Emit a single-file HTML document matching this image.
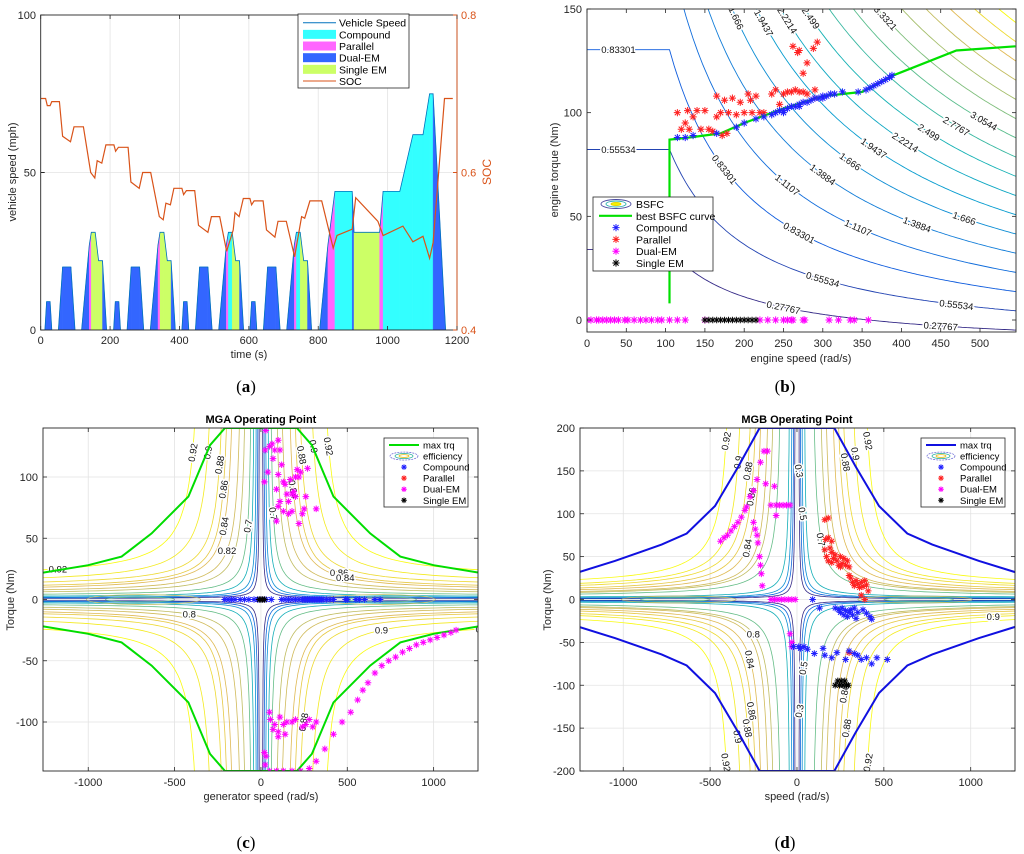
<!DOCTYPE html>
<html><head><meta charset="utf-8"><title>Hybrid powertrain operating points</title>
<style>
html,body{margin:0;padding:0;background:#fff;}
svg{display:block;font-family:"Liberation Sans",sans-serif;}
.tk{font-size:11px;fill:#262626;}
.lg{font-size:10.5px;fill:#000;}
.cl{font-size:9.5px;fill:#111;paint-order:stroke;stroke:#fff;stroke-width:3px;}
</style></head>
<body>
<svg id="fig" width="1024" height="854" viewBox="0 0 1024 854" xmlns="http://www.w3.org/2000/svg">
<defs>
<clipPath id="clipA"><rect x="40.7" y="15" width="416.3" height="315"/></clipPath>
<clipPath id="clipB"><rect x="587" y="9" width="429" height="323"/></clipPath>
<clipPath id="clipC"><rect x="43" y="428" width="435" height="343"/></clipPath>
<clipPath id="clipD"><rect x="580" y="428" width="435" height="343"/></clipPath>
</defs>
</svg>
<script>
// ---------- Panel (a) data ----------
const timePts=[12,17,27,32,51,63,87,99,118,140,146,157,167,178,190,
210,215,225,230,249,261,285,297,316,338,344,355,365,376,388,
407,412,422,427,446,458,482,494,513,535,541,552,562,573,585,
603,608,618,623,642,654,678,690,709,731,737,748,758,769,781,
804,828,848,898,903,977,987,1035,1073,1102,1121,1131,1167];
const speedPts=[0,9,9,0,0,20,20,0,0,27,31,31,22,22,0,
0,9,9,0,0,20,20,0,0,27,31,31,22,22,0,
0,9,9,0,0,20,20,0,0,27,31,31,22,22,0,
0,9,9,0,0,20,20,0,0,27,31,31,22,22,0,
0,27,44,44,31,31,44,44,62,62,75,75,0];
// mode of interval starting at each point: 0 none,1 compound,2 parallel,3 dual-EM,4 single EM
const modeSeg=[3,3,3,0,3,3,3,0,3,2,4,4,4,3,0,
3,3,3,0,3,3,3,0,3,2,4,4,4,3,0,
3,3,3,0,3,3,3,0,3,2,1,4,4,3,0,
3,3,3,0,3,3,3,0,3,2,1,4,4,3,0,
3,2,1,3,4,2,1,1,1,1,1,3,0];
const socTime=[0,14,19,27,32,54,63,86,96,123,144,156,163,176,188,211,216,224,252,260,284,294,317,342,353,361,374,384,407,412,420,444,455,482,492,516,536,555,560,572,584,603,608,615,641,651,675,684,708,732,752,761,776,810,843,854,898,908,972,987,1044,1073,1102,1121,1131,1164,1188];
const socVal=[.694,.694,.685,.685,.690,.690,.646,.639,.658,.658,.600,.593,.615,.612,.635,.635,.627,.632,.632,.588,.580,.600,.600,.544,.540,.561,.559,.580,.580,.572,.577,.577,.533,.524,.544,.544,.500,.527,.549,.544,.567,.567,.559,.564,.564,.527,.518,.538,.538,.493,.544,.542,.564,.564,.504,.520,.528,.568,.538,.520,.532,.512,.519,.491,.511,.694,.694];
const aXTicks=[0,200,400,600,800,1000,1200];
const aYTicks=[0,50,100];
const aSocTicks=[0.4,0.6,0.8];

// ---------- Panel (b) data ----------
const bLevels=[0.27767,0.55534,0.83301,1.1107,1.3884,1.666,1.9437,2.2214,2.499,2.7767,3.0544,3.3321,3.6097,3.8874,4.1651,4.4427,4.7204];
const bLabelLevel=[3,2,1,4,5,6,7,8,9,10,11,12,13,14,15,16,3,4,5,6,7,8,9,10,11,3,4,2,2,1,1,5,6];
const bLabelSpeed=[40,40,40,125,150,190,225,255,285,315,345,380,410,440,465,490,175,255,300,335,365,405,435,470,505,270,345,300,470,250,450,420,480];
const bestCurveSpeed=[105,105,130,170,200,250,300,350,390,470,545];
const bestCurveTorque=[8,87,88,90,95,102,108,110,118,130,132];
const compBw=[115,125,135,165,190,200,215,225,235,240,245,250,255,260,265,270,275,280,285,290,295,300,305,310,315,325,345,355,360,365,370,375,380,385,388,300,270,250];
const compBt=[88,88,89,90,93,95,97,98,99,100,101,101,102,103,103,104,105,105,106,107,107,108,108,109,109,110,110,111,112,113,114,115,116,117,118,107,103,100];
const parBw=[115,120,125,128,130,135,140,145,150,155,160,165,165,170,172,175,178,180,185,190,195,200,205,208,210,215,220,225,235,240,245,250,255,260,265,270,275,280,290,290,262,268,275,280,288,293,270];
const parBt=[100,92,95,101,92,98,101,92,101,92,91,108,98,100,89,106,90,100,107,99,105,100,109,106,100,108,100,100,109,111,104,109,110,110,111,110,110,109,111,107,132,129,119,124,131,134,130];
const dualBw=[0,5,12,15,20,25,30,35,40,48,52,60,68,75,82,90,95,105,115,125,150,220,230,240,250,255,260,262,275,277,308,320,335,340,358];
const singleBw=[150,155,160,165,170,175,180,185,190,195,200,205,210,215];
const bXTicks=[0,50,100,150,200,250,300,350,400,450,500];
const bYTicks=[0,50,100,150];

// ---------- Panel (c) data ----------
const effLevels=[0.3,0.4,0.5,0.6,0.7,0.8,0.82,0.84,0.86,0.88,0.9,0.92];
const cTopSpeed=[10,18,28,42,60,95,125,170,200,230,300,385];
const cAsymSpeed=[8,15,24,35,48,75,100,140,170,195,255,330];
const cAsymTorque=[0.7,1,1.5,2,3,4,5,6.5,8,10,12,17];
const cEnvSpeed=[0,208,295,420,633,807,1000,1257,1400];
const cEnvTorque=[140,140,126,84,54,35,28,22,20];
const cLabLevel=[11,10,9,8,7,6,11,10,9,8,7,11,10,9,8,7,6,11,10,8,5,4,4,11,10,7,9];
const cLabSx=[-1,-1,-1,-1,-1,-1,1,1,1,1,1,1,1,1,1,1,1,-1,-1,-1,-1,-1,1,-1,1,1,1];
const cLabSy=[1,1,1,1,1,1,1,1,1,1,1,-1,-1,-1,-1,-1,-1,-1,-1,-1,-1,1,1,1,-1,1,-1];
const cLabT=[120,120,110,90,60,40,125,125,118,22,18,24,15,12,10,8,6,20,14,8,12,60,70,25,25,90,100];
const compCw=[-210,-190,-170,-150,-120,-95,-70,-40,-20,0,30,60,120,140,160,180,200,220,240,250,260,270,280,290,300,310,320,330,340,350,360,380,400,420,490,500,550,570,600,660,690];
const singleCw=[-10,0,10,20];
const dualCw=[28,25,20,40,50,65,70,80,100,110,100,90,120,130,140,150,160,170,180,200,210,220,230,250,260,270,240,220,180,160,130,110,100,90,320,190,200,
1130,1100,1060,1020,980,940,900,860,820,780,740,700,660,620,590,560,520,470,420,370,320,280,230,180,130,90,50,
50,55,70,80,100,110,130,140,150,180,200,240,260,280,300,320,20,25,30,100];
const dualCt=[138,122,96,104,125,127,115,122,130,122,102,90,110,96,94,86,80,98,86,84,106,100,104,74,84,107,70,62,72,70,72,80,76,64,74,88,100,
-25,-27,-29,-31,-33,-35,-37,-40,-43,-47,-50,-54,-60,-68,-74,-82,-92,-100,-110,-122,-132,-138,-140,-140,-140,-140,-140,
-92,-98,-106,-102,-108,-96,-102,-110,-100,-100,-98,-104,-102,-98,-104,-100,-125,-135,-128,-112];
const islandLevel=[5,4];
const islandCenter=[680,700];
const islandHalfW=[330,200];
const islandHalfT=[4,2];
const cXTicks=[-1000,-500,0,500,1000];
const cYTicks=[-100,-50,0,50,100];

// ---------- Panel (d) data ----------
const dTopSpeed=[12,20,30,45,100,140,170,210,240,270,330,405];
const dAsymSpeed=[10,17,26,38,80,115,145,180,205,230,290,360];
const dAsymTorque=[0.7,1,1.5,2,3,4,5,6,7,9,11,14];
const dEnvSpeed=[0,215,338,472,635,779,1048,1255,1400];
const dEnvTorque=[200,200,155,109,77,64,45,32,28];
const dLabLevel=[11,10,9,8,7,11,10,9,8,7,11,10,9,11,10,9,8,0,2,4,0,2,5,11];
const dLabSx=[-1,-1,-1,-1,-1,-1,-1,-1,-1,-1,1,1,1,1,1,1,1,1,1,1,1,1,-1,-1];
const dLabSy=[1,1,1,1,1,-1,-1,-1,-1,-1,1,1,1,-1,-1,-1,-1,1,1,1,-1,-1,-1,-1];
const dLabT=[185,160,150,120,60,190,160,150,130,70,185,170,160,190,20,150,110,150,100,70,130,80,40,20];
const dualDw=[-440,-420,-400,-380,-360,-340,-320,-300,-290,-270,-250,-230,-210,-190,-170,-250,-240,-230,-225,-215,-210,-205,-200,-180,-130,-150,-120,-100,-80,-60,-40,-120,-150,-130,-110,-90,-70,-50,-30,-10,-40,-30,-30];
const dualDt=[68,72,75,80,85,90,96,104,108,120,127,140,160,173,173,90,82,75,66,50,40,30,16,135,132,110,110,110,110,110,110,98,0,0,0,0,0,0,0,0,-40,-55,-50];
const parDw=[160,180,165,180,200,160,170,180,190,200,210,220,230,240,250,260,270,280,290,300,300,310,320,330,340,350,360,370,380,390,400,410,370,390,300,200,250];
const parDt=[93,95,70,72,68,58,50,45,60,55,48,52,45,40,50,42,48,40,45,38,28,25,20,16,22,18,14,20,15,22,17,10,5,0,-62,43,38];
const compDw=[90,130,220,240,250,260,270,280,290,300,310,320,330,340,350,380,400,420,430,10,20,40,60,100,150,160,200,230,280,300,330,350,370,400,430,460,520,-20];
const compDt=[0,-10,-10,-12,-15,-10,-18,-13,-20,-15,-12,-18,-10,-22,-15,-12,-16,-20,-23,-55,-57,-55,-58,-63,-57,-65,-68,-62,-70,-60,-63,-65,-70,-68,-75,-68,-70,-55];
const singleDw=[220,235,245,255,265,275,285,295];
const singleDt=[-100,-95,-100,-95,-100,-95,-100,-100];
const dXTicks=[-1000,-500,0,500,1000];
const dYTicks=[-200,-150,-100,-50,0,50,100,150,200];

// ---------- helpers ----------
const NS='http://www.w3.org/2000/svg';
const svg=document.getElementById('fig');
function el(tag,attrs,parent){const e=document.createElementNS(NS,tag);for(const k in attrs)e.setAttribute(k,attrs[k]);(parent||svg).appendChild(e);return e;}
function txt(s,attrs,parent){const e=el('text',attrs,parent);e.textContent=s;return e;}
function scale(d0,d1,r0,r1){return v=>r0+(v-d0)/(d1-d0)*(r1-r0);}
function grp(name,parent,clip){const g=el('g',clip?{'clip-path':'url(#'+clip+')'}:{},parent);return g;}
function pts(arr){return arr.map(p=>p[0].toFixed(1)+','+p[1].toFixed(1)).join(' ');}
function starPath(x,y,r){const d=r*0.72;return `M${x-r},${y}H${x+r}M${x},${y-r}V${y+r}M${x-d},${y-d}L${x+d},${y+d}M${x-d},${y+d}L${x+d},${y-d}`;}
function star(g,x,y,color,r,name){const p=el('path',{d:starPath(x,y,r||3.4),stroke:color,'stroke-width':1,fill:'none'},g);return p;}
const parulaStops=[[0,[53,42,135]],[0.125,[15,92,221]],[0.25,[18,125,216]],[0.375,[7,156,207]],[0.5,[21,177,180]],[0.625,[89,189,140]],[0.75,[165,190,107]],[0.875,[225,185,82]],[1,[249,251,14]]];
function parula(t){t=Math.max(0,Math.min(1,t));for(let i=1;i<parulaStops.length;i++){if(t<=parulaStops[i][0]){const[a,ca]=parulaStops[i-1],[b,cb]=parulaStops[i];const f=(t-a)/(b-a);return 'rgb('+ca.map((c,j)=>Math.round(c+(cb[j]-c)*f)).join(',')+')';}}return 'rgb(249,251,14)';}
function frame(x0,y0,x1,y1,name){const r=el('rect',{x:x0,y:y0,width:x1-x0,height:y1-y0,fill:'none',stroke:'#262626','stroke-width':0.9});}
function tickMarks(g,xs,ys,x0,y0,x1,y1,len){xs.forEach(x=>{el('line',{x1:x,y1:y1,x2:x,y2:y1-len,stroke:'#262626','stroke-width':0.8},g);el('line',{x1:x,y1:y0,x2:x,y2:y0+len,stroke:'#262626','stroke-width':0.8},g);});ys.forEach(y=>{el('line',{x1:x0,y1:y,x2:x0+len,y2:y,stroke:'#262626','stroke-width':0.8},g);el('line',{x1:x1,y1:y,x2:x1-len,y2:y,stroke:'#262626','stroke-width':0.8},g);});}
function caption(letter,x,y){const t=el('text',{x:x,y:y,'text-anchor':'middle','font-family':'Liberation Serif, serif','font-size':'17px',fill:'#000'});t.textContent='(';const b=el('tspan',{'font-weight':'bold'},t);b.textContent=letter;const e=el('tspan',{},t);e.textContent=')';}

// ================= Panel (a) =================
(function(){
const X=scale(0,1200,40.7,457),Y=scale(0,100,330,15),S=scale(0.4,0.8,330,15);
const gGrid=grp('grid-a');
aXTicks.slice(1,-1).forEach(t=>el('line',{x1:X(t),y1:15,x2:X(t),y2:330,stroke:'#e3e3e3','stroke-width':0.8},gGrid));
el('line',{x1:40.7,y1:Y(50),x2:457,y2:Y(50),stroke:'#e3e3e3','stroke-width':0.8},gGrid);
const modeColors=['none','#33ffff','#ff66ff','#3366ff','#ccff66'];
const modeNames=['','compound','parallel','dual-em','single-em'];
const gF=grp('mode-areas','', 'clipA');
for(let i=0;i<timePts.length-1;i++){const m=modeSeg[i];if(!m)continue;
const p=el('polygon',{points:pts([[X(timePts[i]),Y(0)],[X(timePts[i]),Y(speedPts[i])],[X(timePts[i+1]),Y(speedPts[i+1])],[X(timePts[i+1]),Y(0)]]),fill:modeColors[m],stroke:modeColors[m],'stroke-width':0.4},gF);

}
const sp=el('polyline',{points:pts(timePts.map((t,i)=>[X(t),Y(speedPts[i])])),fill:'none',stroke:'#0072bd','stroke-width':0.8},gF);


const soc=el('polyline',{points:pts(socTime.map((t,i)=>[X(t),S(socVal[i])])),fill:'none',stroke:'#d95319','stroke-width':1.2},gF);


frame(40.7,15,457,330,'axes-a');
const gT=grp('ticks-a');
el('line',{x1:457,y1:15,x2:457,y2:330,stroke:'#d95319','stroke-width':0.9},gT);
tickMarks(gT,aXTicks.map(X),[],40.7,15,457,330,4);
aYTicks.forEach(v=>{el('line',{x1:40.7,y1:Y(v),x2:44.7,y2:Y(v),stroke:'#262626'},gT);txt(String(v),{x:36,y:Y(v)+4,'text-anchor':'end',class:'tk'},gT);});
aSocTicks.forEach(v=>{el('line',{x1:457,y1:S(v),x2:453,y2:S(v),stroke:'#d95319'},gT);txt(String(v),{x:461,y:S(v)+4,class:'tk',style:'fill:#d95319'},gT);});
aXTicks.forEach(v=>txt(String(v),{x:X(v),y:344,'text-anchor':'middle',class:'tk'},gT));
const xl=txt('time (s)',{x:249,y:358,'text-anchor':'middle',class:'tk'});
const yl=txt('vehicle speed (mph)',{x:0,y:0,'text-anchor':'middle',class:'tk',transform:'translate(16,172) rotate(-90)'});
const yr=txt('SOC',{x:0,y:0,'text-anchor':'middle',class:'tk',style:'fill:#d95319;font-size:12px',transform:'translate(491,172) rotate(-90)'});
// legend
const gL=grp('legend-a');
el('rect',{x:298,y:14,width:111,height:74,fill:'#fff',stroke:'#262626','stroke-width':0.8},gL);
const labs=['Vehicle Speed','Compound','Parallel','Dual-EM','Single EM','SOC'];
const cols=['#0072bd','#33ffff','#ff66ff','#3366ff','#ccff66','#d95319'];
labs.forEach((l,i)=>{const yc=22.7+i*11.66;const g=grp('legend-entry-'+l.toLowerCase().replace(/ /g,'-'),gL);
if(i==0||i==5)el('line',{x1:303,y1:yc,x2:336,y2:yc,stroke:cols[i],'stroke-width':1},g);else el('rect',{x:303,y:yc-4.5,width:33,height:9,fill:cols[i]},g);
txt(l,{x:339,y:yc+4,class:'lg',style:'font-size:10.5px'},g);});
caption('a',246,392);
})();

// ================= Panel (b) =================
const bA=7.75e-4,bB=5.49e-5;
function bTorque(L,w){const we=Math.max(w,105);return (L-bA*we)/(bB*we);}
(function(){
const X=scale(0,500,587,980),Y=scale(0,150,320,9);
const gC=grp('bsfc-contours','', 'clipB');
bLevels.forEach((L,i)=>{const a=[];for(let w=0;w<=548;w+=3){const T=bTorque(L,w);if(T>200){continue;}a.push([X(w),Y(Math.max(T,-20))]);}
const p=el('polyline',{points:pts(a),fill:'none',stroke:parula(i/16),'stroke-width':0.9},gC);

});
const gLb=grp('contour-labels-b','', 'clipB');
bLabelLevel.forEach((li,k)=>{const L=bLevels[li-1],w=bLabelSpeed[k],T=bTorque(L,w);if(T>146||T<-3)return;
const x=X(w),y=Y(T);const x2=X(w+4),y2=Y(bTorque(L,w+4));let ang=Math.atan2(y2-y,x2-x)*180/Math.PI;
const t=txt(String(L),{x:x,y:y+3.5,'text-anchor':'middle',class:'cl',transform:`rotate(${ang.toFixed(1)} ${x} ${y})`},gLb);

});
const gS=grp('best-bsfc-curve','', 'clipB');
el('polyline',{points:pts(bestCurveSpeed.map((w,i)=>[X(w),Y(bestCurveTorque[i])])),fill:'none',stroke:'#00e000','stroke-width':2.2},gS);
const gD=grp('dual-em-points-b','', 'clipB');dualBw.forEach(w=>star(gD,X(w),Y(0),'#ff00ff',3.6,'dual-em-point'));
const gSi=grp('single-em-points-b','', 'clipB');singleBw.forEach(w=>star(gSi,X(w),Y(0),'#000',3.2,'single-em-point'));
const gP=grp('parallel-points-b','', 'clipB');parBw.forEach((w,i)=>star(gP,X(w),Y(parBt[i]),'#ff2020',3.6,'parallel-point'));
const gCo=grp('compound-points-b','', 'clipB');compBw.forEach((w,i)=>star(gCo,X(w),Y(compBt[i]),'#2020ff',3.6,'compound-point'));
frame(587,9,1016,332,'axes-b');
const gT=grp('ticks-b');
tickMarks(gT,bXTicks.map(X),bYTicks.map(Y),587,9,1016,332,4);
bXTicks.forEach(v=>txt(String(v),{x:X(v),y:347,'text-anchor':'middle',class:'tk'},gT));
bYTicks.forEach(v=>txt(String(v),{x:582,y:Y(v)+4,'text-anchor':'end',class:'tk'},gT));
const xl=txt('engine speed (rad/s)',{x:801,y:362,'text-anchor':'middle',class:'tk'});
const yl=txt('engine torque (Nm)',{x:0,y:0,'text-anchor':'middle',class:'tk',transform:'translate(558,170) rotate(-90)'});
const gL=grp('legend-b');
el('rect',{x:593,y:197,width:120,height:74,fill:'#fff',stroke:'#262626','stroke-width':0.8},gL);
const labs=['BSFC','best BSFC curve','Compound','Parallel','Dual-EM','Single EM'];
const cols=['','#00e000','#2020ff','#ff2020','#ff00ff','#000'];
labs.forEach((l,i)=>{const yc=204+i*11.8;const g=grp('legend-entry-'+l.toLowerCase().replace(/ /g,'-'),gL);
if(i==0){el('ellipse',{cx:616,cy:yc,rx:15,ry:4.5,fill:'none',stroke:'#4a4aa0','stroke-width':0.9},g);el('ellipse',{cx:616,cy:yc,rx:10,ry:3,fill:'none',stroke:'#2ab0b0','stroke-width':0.9},g);el('ellipse',{cx:616,cy:yc,rx:5,ry:1.6,fill:'#f5f000',stroke:'#e0d000','stroke-width':0.8},g);}
else if(i==1)el('line',{x1:599,y1:yc,x2:632,y2:yc,stroke:cols[i],'stroke-width':2.2},g);
else star(g,616,yc,cols[i],3.6,'legend-marker');
txt(l,{x:636,y:yc+4,class:'lg'},g);});
caption('b',785,392);
})();

// ================= Panels (c) & (d) =================
function effPanel(o){
const X=scale(o.xmin,o.xmax,o.px0,o.px1),Y=scale(-o.tmax,o.tmax,o.py1,o.py0);
const gG=grp('grid-'+o.id);
o.xt.forEach(v=>el('line',{x1:X(v),y1:o.py0,x2:X(v),y2:o.py1,stroke:'#e3e3e3','stroke-width':0.8},gG));
o.yt.forEach(v=>el('line',{x1:o.px0,y1:Y(v),x2:o.px1,y2:Y(v),stroke:'#e3e3e3','stroke-width':0.8},gG));
const gC=grp('efficiency-contours-'+o.id,'',o.clip);
function curve(i,sx,sy){const a=o.as[i],b=o.at[i],k=(o.top[i]-a)*(o.tmax-b);const arr=[];
const tEnd=b+k/(1400-a);for(let j=0;j<=60;j++){const f=j/60;const T=b+(o.tmax+5-b)*Math.pow((tEnd-b)/(o.tmax+5-b),f);const w=a+k/(T-b);arr.push([X(sx*w),Y(sy*T)]);}return arr;}
o.levels.forEach((L,i)=>{const col=parula((L-0.3)/0.62);[[1,1],[-1,1],[1,-1],[-1,-1]].forEach(([sx,sy])=>{
const p=el('polyline',{points:pts(curve(i,sx,sy)),fill:'none',stroke:col,'stroke-width':0.8},gC);

});});
islandLevel.forEach((li,k)=>{[1,-1].forEach(sx=>{const e=el('ellipse',{cx:X(sx*islandCenter[k]),cy:Y(0),rx:Math.abs(X(islandHalfW[k])-X(0)),ry:Math.abs(Y(islandHalfT[k])-Y(0)),fill:'none',stroke:parula((o.levels[li]-0.3)/0.62),'stroke-width':0.8},gC);

});});
const gLb=grp('contour-labels-'+o.id,'',o.clip);
o.labL.forEach((li,k)=>{const a=o.as[li],b=o.at[li],kk=(o.top[li]-a)*(o.tmax-b);const T=o.labT[k];if(T<=b+0.3)return;const w=a+kk/(T-b);
const x=X(o.labSx[k]*w),y=Y(o.labSy[k]*T);const steep=(w<o.top[li]*1.4);
const t=txt(String(o.levels[li]),{x:x,y:y+3.5,'text-anchor':'middle',class:'cl',transform:steep?`rotate(${o.labSx[k]*o.labSy[k]>0?80:-80} ${x} ${y})`:''},gLb);

});
const gE=grp('max-torque-curve-'+o.id,'',o.clip);
const up=[],lo=[];for(let i=o.envS.length-1;i>=0;i--){up.push([X(-o.envS[i]),Y(o.envT[i])]);lo.push([X(-o.envS[i]),Y(-o.envT[i])]);}
for(let i=1;i<o.envS.length;i++){up.push([X(o.envS[i]),Y(o.envT[i])]);lo.push([X(o.envS[i]),Y(-o.envT[i])]);}
el('polyline',{points:pts(up),fill:'none',stroke:o.envColor,'stroke-width':2},gE);
el('polyline',{points:pts(lo),fill:'none',stroke:o.envColor,'stroke-width':2},gE);
o.scatter.forEach(s=>{const g=grp(s.name+'-points-'+o.id,'',o.clip);s.w.forEach((w,i)=>star(g,X(w),Y(s.t[i]),s.col,3.3,s.name+'-point'));});
frame(o.px0,o.py0,o.px1,o.py1,'axes-'+o.id);
const gT=grp('ticks-'+o.id);
tickMarks(gT,o.xt.map(X),o.yt.map(Y),o.px0,o.py0,o.px1,o.py1,4);
o.xt.forEach(v=>txt(String(v),{x:X(v),y:786,'text-anchor':'middle',class:'tk'},gT));
o.yt.forEach(v=>txt(String(v),{x:o.px0-5,y:Y(v)+4,'text-anchor':'end',class:'tk'},gT));
const ti=txt(o.title,{x:X(0),y:423,'text-anchor':'middle',class:'tk',style:'font-weight:bold;font-size:11px;fill:#000'});
const xl=txt(o.xlabel,{x:X(0),y:800,'text-anchor':'middle',class:'tk'});
const yl=txt('Torque (Nm)',{x:0,y:0,'text-anchor':'middle',class:'tk',transform:`translate(${o.ylx},600) rotate(-90)`});
const gL=grp('legend-'+o.id);
el('rect',{x:o.lx,y:438,width:84,height:69,fill:'#fff',stroke:'#262626','stroke-width':0.8},gL);
const labs=['max trq','efficiency','Compound','Parallel','Dual-EM','Single EM'];
const cols=[o.envColor,'','#2020ff','#ff2020','#ff00ff','#000'];
labs.forEach((l,i)=>{const yc=445+i*11.06;const g=grp('legend-entry-'+l.toLowerCase().replace(/ /g,'-'),gL);const ix=o.lx+5,cx=o.lx+20;
if(i==0)el('line',{x1:ix,y1:yc,x2:ix+30,y2:yc,stroke:cols[0],'stroke-width':2},g);
else if(i==1){el('ellipse',{cx:cx,cy:yc,rx:14,ry:4,fill:'none',stroke:'#5a5ad0','stroke-width':0.7,'stroke-dasharray':'2,1'},g);el('ellipse',{cx:cx,cy:yc,rx:9,ry:2.6,fill:'none',stroke:'#30b0a0','stroke-width':0.8},g);el('ellipse',{cx:cx,cy:yc,rx:5,ry:1.4,fill:'none',stroke:'#e8c020','stroke-width':0.8},g);}
else star(g,cx,yc,cols[i],2.8,'legend-marker');
txt(l,{x:o.lx+39,y:yc+3.5,class:'lg',style:'font-size:9.5px'},g);});
}
effPanel({id:'c',clip:'clipC',px0:43,px1:478,py0:428,py1:771,xmin:-1262,xmax:1257,tmax:140,xt:cXTicks,yt:cYTicks,
levels:effLevels,top:cTopSpeed,as:cAsymSpeed,at:cAsymTorque,envS:cEnvSpeed,envT:cEnvTorque,envColor:'#00dd00',
labL:cLabLevel,labSx:cLabSx,labSy:cLabSy,labT:cLabT,title:'MGA Operating Point',xlabel:'generator speed (rad/s)',ylx:14,lx:384,
scatter:[{name:'dual-em',w:dualCw,t:dualCt,col:'#ff00ff'},{name:'compound',w:compCw,t:compCw.map(()=>0),col:'#2020ff'},{name:'single-em',w:singleCw,t:singleCw.map(()=>0),col:'#000'}]});
effPanel({id:'d',clip:'clipD',px0:580,px1:1015,py0:428,py1:771,xmin:-1249,xmax:1255,tmax:200,xt:dXTicks,yt:dYTicks,
levels:effLevels,top:dTopSpeed,as:dAsymSpeed,at:dAsymTorque,envS:dEnvSpeed,envT:dEnvTorque,envColor:'#1010e0',
labL:dLabLevel,labSx:dLabSx,labSy:dLabSy,labT:dLabT,title:'MGB Operating Point',xlabel:'speed (rad/s)',ylx:551,lx:921,
scatter:[{name:'dual-em',w:dualDw,t:dualDt,col:'#ff00ff'},{name:'parallel',w:parDw,t:parDt,col:'#ff2020'},{name:'compound',w:compDw,t:compDt,col:'#2020ff'},{name:'single-em',w:singleDw,t:singleDt,col:'#000'}]});
caption('c',246,848);
caption('d',785,848);
</script>
</body></html>
